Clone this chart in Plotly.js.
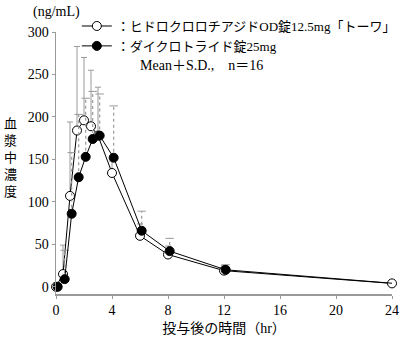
<!DOCTYPE html>
<html>
<head>
<meta charset="utf-8">
<script src="https://cdn.plot.ly/plotly-3.0.1.min.js"></script>
<style>html,body{margin:0;padding:0;background:#fff;}#chart{width:400px;height:337px;}</style>
</head>
<body>
<div id="chart"></div>
<script>
// Sampling times (hr)
var times = [0, 0.5, 1, 1.5, 2, 2.5, 3, 4, 6, 8, 12, 24];
// Hydrochlorothiazide OD 12.5mg "Towa" (open circles): mean and SD (ng/mL)
var odMean = [0, 15, 107, 184, 196, 189, 178, 134, 60, 38, 19, 4];
var odSD   = [0, 34, 87, 99, 74, 66, 57, 14, 14, 10, 6, 2];
// Dichlotride 25mg (filled circles): mean and SD (ng/mL)
var refMean = [0, 9, 86, 129, 153, 174, 178, 152, 66, 42, 20, 4];
var refSD   = [0, 34, 72, 74, 69, 56, 49, 61, 23, 15, 6, 2];
// Labels
var odName = "：ヒドロクロロチアジドOD錠12.5mg「トーワ」";
var refName = "：ダイクロトライド錠25mg";
var yTicks = [0, 50, 100, 150, 200, 250, 300];
var xTicks = [0, 4, 8, 12, 16, 20, 24];

var FONT = "Liberation Serif, 'Times New Roman', 'Noto Sans CJK JP', serif";
var GRAY = "#9a9a9a";

// dashed SD bars for the reference product, built from its data
var bx = [], by = [], cx = [], cy = [];
for (var i = 0; i < times.length; i++) {
  if (refSD[i] > 0) {
    bx.push(times[i], times[i], null);
    by.push(refMean[i], refMean[i] + refSD[i], null);
    cx.push(times[i]);
    cy.push(refMean[i] + refSD[i]);
  }
}

var traces = [
  {x: bx, y: by, xaxis: 'x2', mode: 'lines', showlegend: false, hoverinfo: 'skip',
   line: {color: GRAY, width: 1.2, dash: 'dot'}, cliponaxis: false},
  {x: cx, y: cy, xaxis: 'x2', mode: 'markers', showlegend: false, hoverinfo: 'skip',
   marker: {symbol: 'line-ew', size: 6, line: {color: GRAY, width: 1}}, cliponaxis: false},
  {x: times, y: refMean, xaxis: 'x2', name: refName, mode: 'lines+markers',
   line: {color: '#000', width: 1},
   marker: {symbol: 'circle', size: 9, color: '#000', line: {color: '#000', width: 1}},
   cliponaxis: false},
  {x: times, y: odMean, name: odName, mode: 'lines+markers',
   line: {color: '#000', width: 1},
   marker: {symbol: 'circle', size: 9, color: '#fff', line: {color: '#000', width: 1}},
   error_y: {type: 'data', symmetric: false, array: odSD, arrayminus: odSD.map(function(){return 0;}),
             color: GRAY, thickness: 1, width: 3},
   cliponaxis: false}
];

var layout = {
  width: 400, height: 337,
  margin: {l: 56, r: 8, t: 32, b: 43, autoexpand: false},
  paper_bgcolor: '#fff', plot_bgcolor: '#fff',
  font: {family: FONT, size: 14, color: '#000'},
  showlegend: true,
  legend: {x: 0.062, xanchor: 'left', y: 1.08, yanchor: 'top', traceorder: 'reversed',
           font: {family: FONT, size: 13, color: '#000'}, bgcolor: 'rgba(0,0,0,0)',
           itemwidth: 30, tracegroupgap: 0},
  xaxis: {range: [0, 24], tickvals: xTicks, ticks: 'outside', ticklen: 3, tickcolor: GRAY,
          showline: true, linecolor: GRAY, linewidth: 1.5, showgrid: false, zeroline: false,
          ticklabeloverflow: 'allow',
          tickfont: {family: FONT, size: 14},
          title: {text: '投与後の時間（hr）', font: {family: FONT, size: 14}, standoff: 6}},
  xaxis2: {range: [-0.12, 23.88], overlaying: 'x', visible: false},
  yaxis: {range: [-8.5, 300], tickvals: yTicks, ticks: 'outside', ticklen: 3, tickcolor: GRAY,
          showline: true, linecolor: GRAY, linewidth: 1.5, showgrid: false, zeroline: false,
          tickfont: {family: FONT, size: 14}},
  annotations: [
    {text: '(ng/mL)', xref: 'paper', yref: 'paper', x: 0, y: 1.078, xanchor: 'center', yanchor: 'middle',
     showarrow: false, font: {family: FONT, size: 14}},
    {text: '血<br>漿<br>中<br>濃<br>度', xref: 'paper', yref: 'paper', x: -0.135, y: 0.52,
     xanchor: 'center', yanchor: 'middle', showarrow: false, font: {family: FONT, size: 13}},
    {text: 'Mean＋S.D.,　n＝16', xref: 'paper', yref: 'paper', x: 0.245, y: 0.874,
     xanchor: 'left', yanchor: 'middle', showarrow: false, font: {family: FONT, size: 14}}
  ]
};

Plotly.newPlot('chart', traces, layout, {staticPlot: true, displayModeBar: false});
</script>
</body>
</html>
